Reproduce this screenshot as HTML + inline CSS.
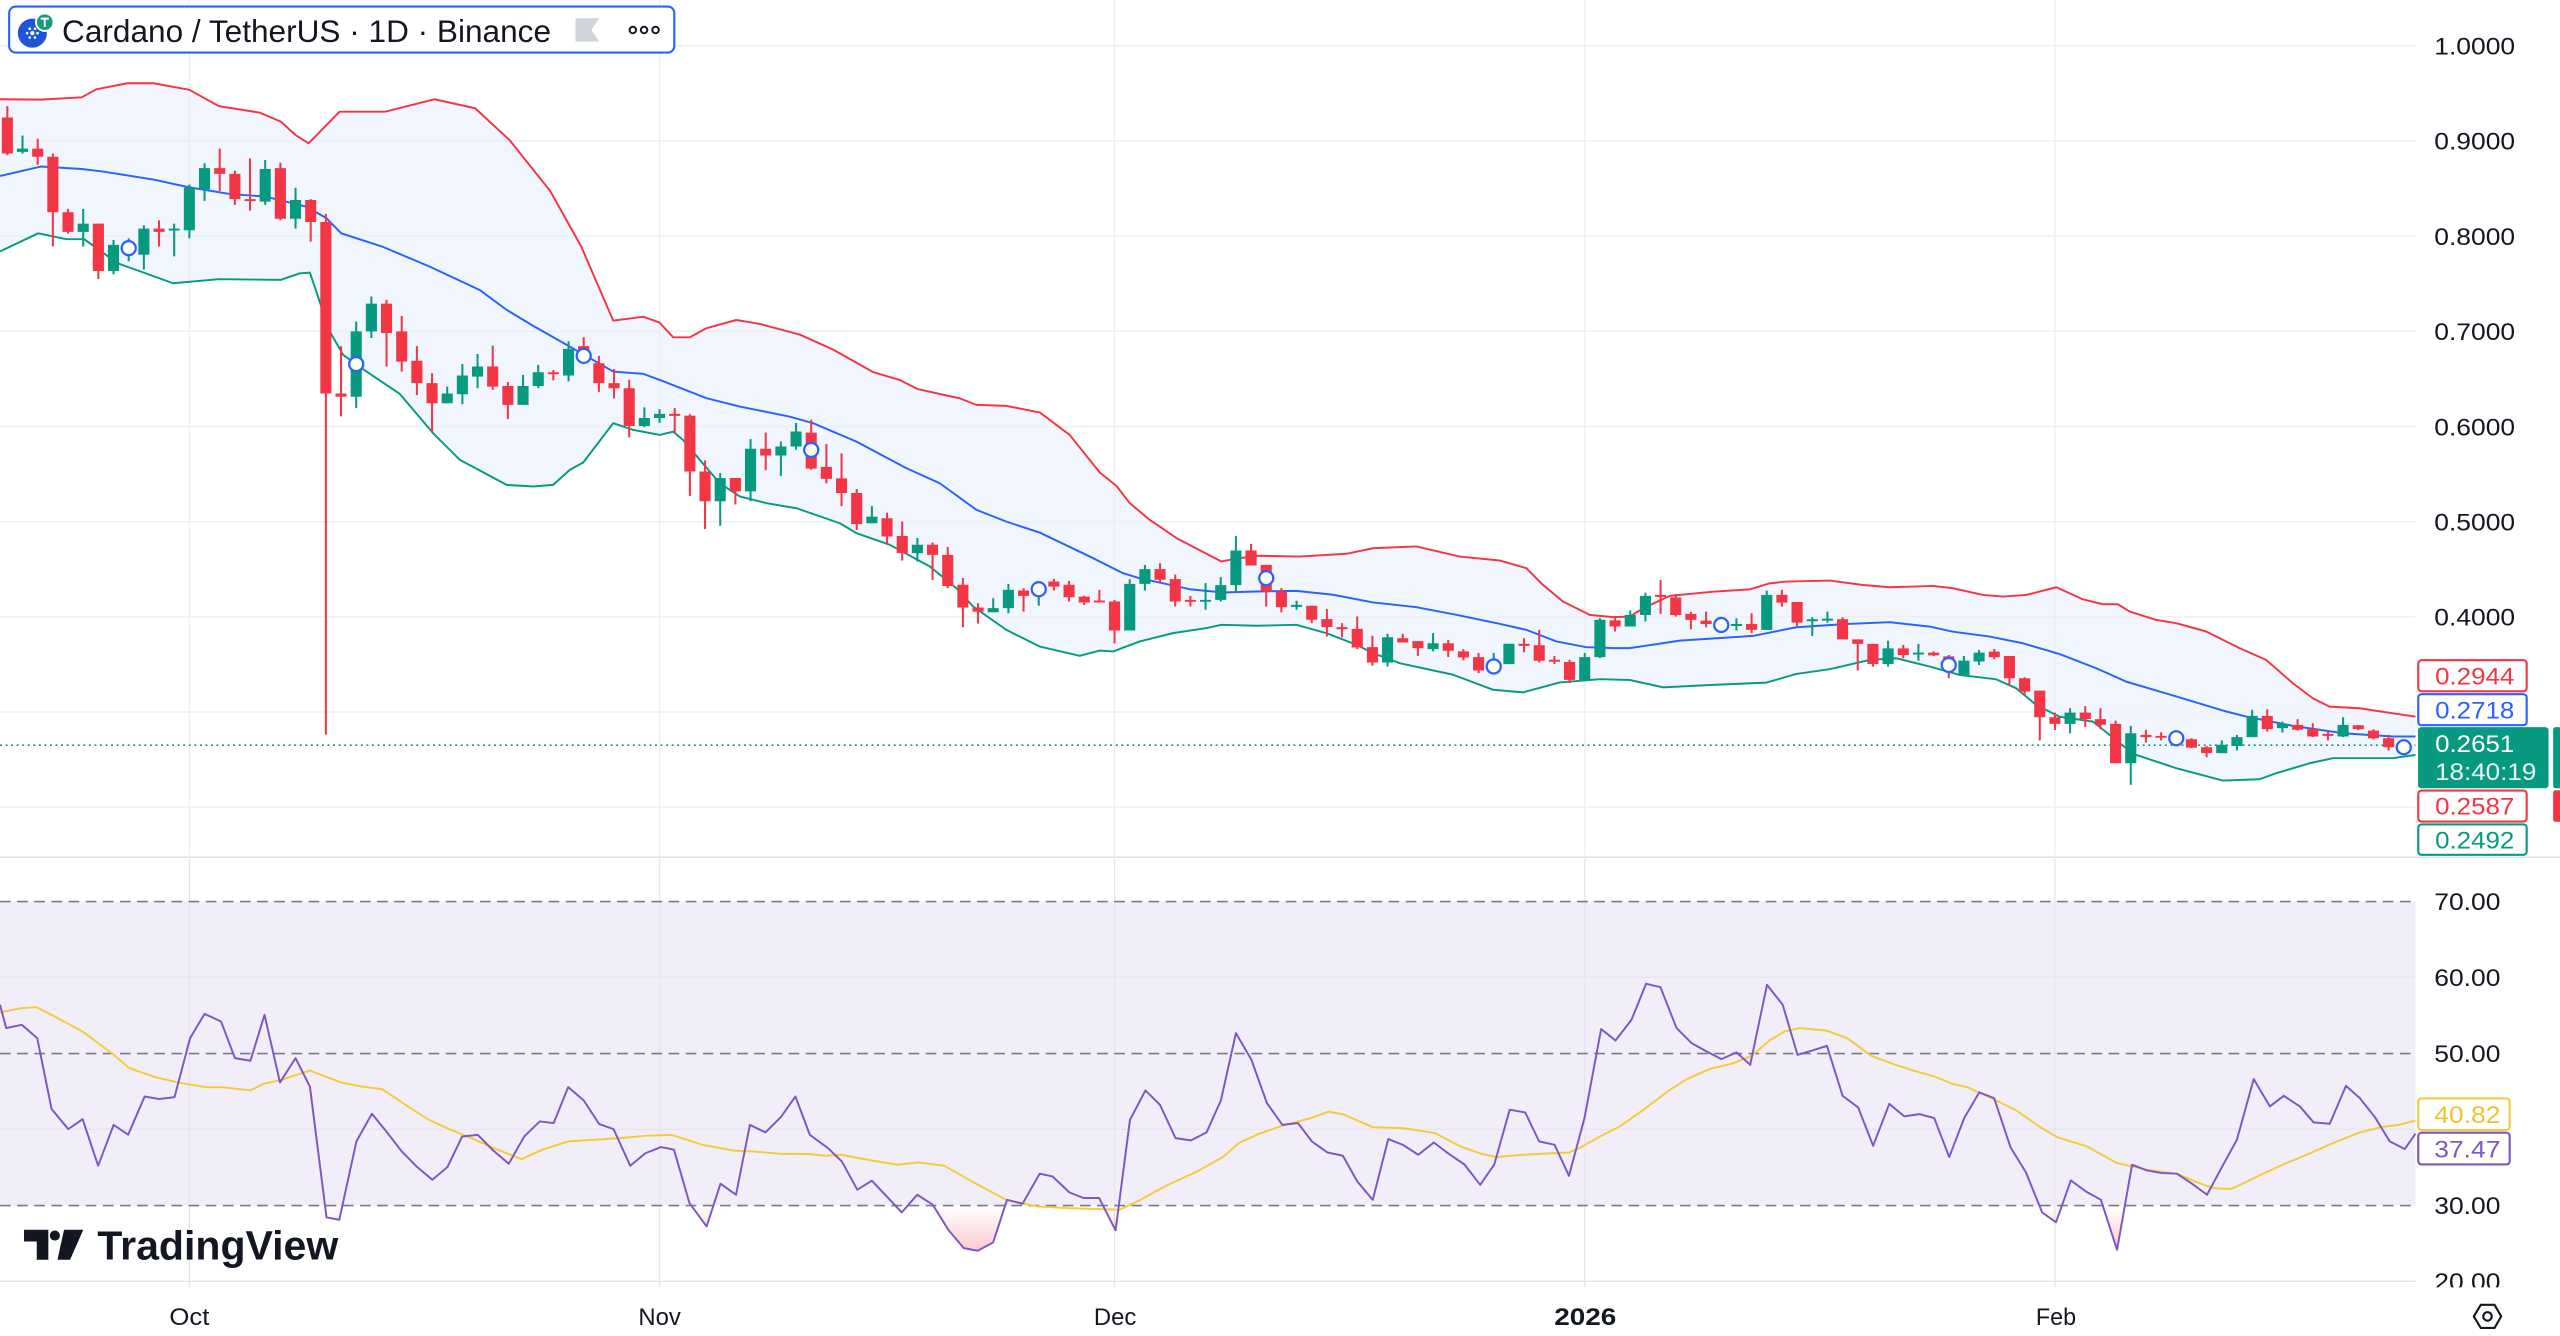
<!DOCTYPE html>
<html><head><meta charset="utf-8"><style>
html,body{margin:0;padding:0;background:#fff;width:2560px;height:1336px;overflow:hidden}
svg{display:block}
text{font-family:"Liberation Sans",Arial,sans-serif}
</style></head><body>
<svg width="2560" height="1336" viewBox="0 0 1568 818.31" xmlns="http://www.w3.org/2000/svg">
<defs>
<clipPath id="mainc"><rect x="0" y="0" width="1479.5" height="524"/></clipPath>
<clipPath id="osc"><rect x="0" y="738.4" width="1479.5" height="50"/></clipPath>
<clipPath id="rsic"><rect x="0" y="526" width="1568" height="262.5"/></clipPath>
<linearGradient id="osg" gradientUnits="userSpaceOnUse" x1="0" y1="738.4" x2="0" y2="768">
<stop offset="0" stop-color="#f23645" stop-opacity="0"/><stop offset="1" stop-color="#f23645" stop-opacity="0.28"/>
</linearGradient>
</defs>
<rect x="0" y="0" width="1568" height="818.31" fill="#fff"/>

<!-- Bollinger band fill -->
<g clip-path="url(#mainc)">
<polygon fill="#f1f6fe" points="0,60.8 25,61 50,59.6 59,54.7 78,51 94,51 116,55 134,65 159,69 172,74.5 181,82.7 189,87.8 208,68.4 236,68.4 266,60.8 291,66.3 312,85.7 337,117 356,151 375.6,196.4 394,194 404,197.6 412.3,206.6 422.5,206.6 432.7,201 451,196 465.4,198.4 490,205 510,214 535,228 551,232.7 562.3,238.4 587.9,244 598,248 616.4,248.6 637,252.7 655.2,266.4 673.6,289.4 683.8,297.6 692,308.2 704.2,318.4 710.3,322.5 720.6,329.6 748.1,343.9 755.3,342.5 769.5,340.4 796,340.9 824.7,339.2 841,335.8 867.5,334.7 894,340.9 918.5,343.3 934.9,348 945,358.2 957.3,368.4 973.7,376.6 988,378 998.2,377.7 1006.4,372.6 1022.7,365 1049.2,362.4 1071.7,361 1083.9,357.3 1094.1,356.2 1120.7,355.6 1141.1,358.3 1157.4,359.7 1184,358.9 1196.2,360.3 1214.6,364.4 1226.8,365.4 1241.1,364.4 1259.5,359.7 1275.8,367.1 1288,370.1 1297.2,370.1 1304.4,374.6 1320.7,379.7 1333,381.7 1351.3,386.8 1371.7,397 1388,404.2 1404.4,418.5 1416.6,427.7 1426.8,432.8 1445.2,433.8 1465.6,436.9 1479.5,438.9 1479.5,524 0,524"/>
<polygon fill="#fff" points="0,154 23.4,142.9 40.6,146.5 51.6,146.5 71.9,161.2 106,173.5 134,171 172,171.4 183.7,167.4 189.8,167 202,203.1 210.2,217.4 224.5,227.6 244.9,241.3 265.3,265.4 281.7,281.7 310.3,297 326.6,298 338.8,297 349,287.8 357.2,283.3 375.6,259.2 387.8,263.3 404.1,266.4 412.3,264.4 418.4,269.5 428.6,281.7 440.9,296 453.1,304.1 469.5,308.2 487.8,311.3 514.4,320.5 524.6,326.6 545,333.7 569.5,347 585.8,360.3 596,371.5 616.4,385.8 636.8,396 661.3,401.7 673.6,398.5 681.8,399 698.1,392.9 718.5,387.8 739,384.7 748.1,382.7 769.5,383.3 794,382.7 812.4,387.8 830.8,394.9 841,400.1 857.3,406.2 890,413.3 914.5,422.5 932.8,424.1 955.3,418 980,416 998.2,416.5 1018.6,421 1049.2,419.5 1081.9,418.1 1100.3,412.8 1120.7,409.9 1145.2,404.2 1161.5,403.2 1182,408.3 1200.3,413.4 1222.7,416.1 1235,421.6 1247.2,431.8 1261.5,439 1281.9,442 1292.1,450.1 1302.3,458.3 1308.4,462.4 1333,470.5 1361.5,478.1 1384,477.3 1394.2,473.6 1414.6,467.5 1428.9,464.4 1465.6,464.4 1479.5,462.4 1479.5,524 0,524"/>
</g>

<!-- grid -->
<g stroke="#eceef2" stroke-width="0.8" fill="none">
<path d="M0 28H1479.5M0 86.3H1479.5M0 144.6H1479.5M0 202.9H1479.5M0 261.2H1479.5M0 319.5H1479.5M0 377.8H1479.5M0 436.1H1479.5M0 494.4H1479.5"/>
<path d="M115.98 0V524M403.97 0V524M682.67 0V524M970.66 0V524M1258.65 0V524"/>
</g>
<path d="M0 525H1568" stroke="#e0e3eb" stroke-width="1"/>

<!-- last price dotted line -->
<path d="M0 456.4H1479.5" stroke="#089981" stroke-width="1" stroke-dasharray="1.2 2.2"/>

<!-- Bollinger lines -->
<g fill="none" stroke-width="1.2" stroke-linejoin="round" clip-path="url(#mainc)">
<polyline stroke="#f23645" points="0,60.8 25,61 50,59.6 59,54.7 78,51 94,51 116,55 134,65 159,69 172,74.5 181,82.7 189,87.8 208,68.4 236,68.4 266,60.8 291,66.3 312,85.7 337,117 356,151 375.6,196.4 394,194 404,197.6 412.3,206.6 422.5,206.6 432.7,201 451,196 465.4,198.4 490,205 510,214 535,228 551,232.7 562.3,238.4 587.9,244 598,248 616.4,248.6 637,252.7 655.2,266.4 673.6,289.4 683.8,297.6 692,308.2 704.2,318.4 710.3,322.5 720.6,329.6 748.1,343.9 755.3,342.5 769.5,340.4 796,340.9 824.7,339.2 841,335.8 867.5,334.7 894,340.9 918.5,343.3 934.9,348 945,358.2 957.3,368.4 973.7,376.6 988,378 998.2,377.7 1006.4,372.6 1022.7,365 1049.2,362.4 1071.7,361 1083.9,357.3 1094.1,356.2 1120.7,355.6 1141.1,358.3 1157.4,359.7 1184,358.9 1196.2,360.3 1214.6,364.4 1226.8,365.4 1241.1,364.4 1259.5,359.7 1275.8,367.1 1288,370.1 1297.2,370.1 1304.4,374.6 1320.7,379.7 1333,381.7 1351.3,386.8 1371.7,397 1388,404.2 1404.4,418.5 1416.6,427.7 1426.8,432.8 1445.2,433.8 1465.6,436.9 1479.5,438.9"/>
<polyline stroke="#089981" points="0,154 23.4,142.9 40.6,146.5 51.6,146.5 71.9,161.2 106,173.5 134,171 172,171.4 183.7,167.4 189.8,167 202,203.1 210.2,217.4 224.5,227.6 244.9,241.3 265.3,265.4 281.7,281.7 310.3,297 326.6,298 338.8,297 349,287.8 357.2,283.3 375.6,259.2 387.8,263.3 404.1,266.4 412.3,264.4 418.4,269.5 428.6,281.7 440.9,296 453.1,304.1 469.5,308.2 487.8,311.3 514.4,320.5 524.6,326.6 545,333.7 569.5,347 585.8,360.3 596,371.5 616.4,385.8 636.8,396 661.3,401.7 673.6,398.5 681.8,399 698.1,392.9 718.5,387.8 739,384.7 748.1,382.7 769.5,383.3 794,382.7 812.4,387.8 830.8,394.9 841,400.1 857.3,406.2 890,413.3 914.5,422.5 932.8,424.1 955.3,418 980,416 998.2,416.5 1018.6,421 1049.2,419.5 1081.9,418.1 1100.3,412.8 1120.7,409.9 1145.2,404.2 1161.5,403.2 1182,408.3 1200.3,413.4 1222.7,416.1 1235,421.6 1247.2,431.8 1261.5,439 1281.9,442 1292.1,450.1 1302.3,458.3 1308.4,462.4 1333,470.5 1361.5,478.1 1384,477.3 1394.2,473.6 1414.6,467.5 1428.9,464.4 1465.6,464.4 1479.5,462.4"/>
<polyline stroke="#2962ff" points="0,107.8 25,102 50,103.5 62.5,105 94,110 115.6,114.7 140.6,118.8 162.5,120.4 187.5,126.5 200,133.7 209,142.9 234,151 262.5,163 293.8,177.6 310.3,189.8 326.6,199.6 349,212.3 375.6,227.6 394,229 404.1,232.7 432.7,243.9 453.1,249 483.8,255.2 498,259.2 524.6,270.5 555.2,286.8 575.6,296 598.1,312.3 616.4,319.5 636.8,326.2 667.5,340.9 687.9,351.1 698.1,354.2 710.3,356.8 728.7,360.9 749.1,362.9 769.5,362.3 794,361.9 816.5,364.3 841,369 867.5,371.9 892,376.6 918.5,382.1 934.9,385.8 953.3,392.9 971.6,396.4 988,397 998.2,397 1028.8,392.4 1073.7,389.5 1100.3,384.2 1130.9,382.2 1157.4,381.1 1182,383.8 1196.2,386.9 1218.7,389.9 1239,394 1261.5,400.6 1284,409.3 1302.3,417.5 1333,426.6 1363.6,435.8 1375.8,438.9 1404.4,444.6 1435,449.1 1465.6,451.1 1479.5,451.1"/>
</g>

<!-- candles -->
<g fill="none" stroke-linecap="butt">
<path stroke="#f23645" stroke-width="1.25" d="M4.5 65V95M23.08 85V101M32.37 94V151M41.66 128V143M60.24 137V171M97.4 135V151M134.56 91V117M143.85 104.5V125.5M153.14 97V129M171.72 99.6V135M190.3 122V148M199.59 131V450M208.88 212V255M236.75 183.7V224.5M246.04 193.5V227.6M255.33 212V242M264.62 228.6V265M301.78 211.7V238.8M311.07 234V256.7M338.94 226.6V233M357.52 206.6V222M366.81 218V240M376.1 226V244M385.39 232.6V268M413.26 250V265M422.55 253.7V303.7M431.84 282V324M450.42 292.8V309M469 265V288M496.87 257V287.8M506.16 272V296M515.45 277.6V310M524.74 299.5V324.6M543.32 314V333.7M552.61 319.5V343.3M571.19 332.3V355.2M580.48 335V360.3M589.77 354V384.2M599.06 369.5V382M626.93 360.3V374.6M645.51 354.6V361.7M654.8 355.8V368.4M664.09 365V370.5M673.38 361.3V368.8M682.67 367.4V394M710.54 345V356.8M719.83 352V371.5M729.12 365V371.5M766.28 333.1V346.4M775.57 346V371.5M784.86 360.2V375.1M803.44 371V381.7M812.73 373.1V389.8M822.02 381.7V390.3M831.31 377.6V397.6M840.6 389.4V407.8M859.18 388.2V393.5M868.47 392.7V401.7M887.05 391.9V402.5M896.34 397.6V404.5M905.63 400V412.3M933.5 390.9V399.6M942.79 385.8V405.8M952.08 401.7V406.8M961.37 404.1V418.4M989.24 378.6V386.8M1017.11 355.2V376M1026.4 363.8V377.7M1035.69 374.6V385.4M1044.98 374.6V384.2M1054.27 379V386M1072.85 375.6V387.9M1091.43 361.3V371.6M1100.72 368.7V383.4M1128.59 378.1V391.6M1137.88 391.6V410.7M1147.17 394.4V408.3M1165.75 395V403.2M1184.33 399V401.8M1193.62 401.2V415.4M1221.49 397.5V403.8M1230.78 401.8V419.5M1240.07 414.8V425.6M1249.36 423V453.6M1258.65 436.5V447.1M1277.23 432.4V445.4M1286.52 433.8V446.7M1295.81 441.4V467.5M1314.39 447V454.8M1323.68 448.6V453.5M1332.97 449V455M1342.26 452.2V458.3M1351.55 456.9V463.8M1388.71 434.4V448.1M1407.29 440.5V447.5M1416.58 443V451.5M1425.87 448.1V453.6M1444.45 444.2V447.3M1453.74 446.7V452.9M1463.03 450.1V459.7"/>
<path stroke="#f23645" stroke-width="6.8" d="M4.5 72V94M23.08 91V96M32.37 96V130M41.66 130V142M60.24 137V166M97.4 140V142M134.56 103V106.5M143.85 106.5V122M153.14 122V123.2M171.72 103V134M190.3 122.5V136M199.59 136V241M208.88 241V243M236.75 186V204M246.04 203V221.5M255.33 221V234.7M264.62 234.7V247M301.78 224.5V236.8M311.07 236.4V248M338.94 228V229.2M357.52 212V217M366.81 222.5V234.7M376.1 234.7V237.8M385.39 237.8V260.9M413.26 253.5V254.7M422.55 254.6V288.8M431.84 288.8V307M450.42 292.8V301M469 274.9V279M496.87 265V287M506.16 286V293.3M515.45 293V302M524.74 302V321M543.32 317.4V328.6M552.61 328.3V338.8M571.19 333.7V339.9M580.48 339.9V358.9M589.77 358.2V372.1M599.06 372.1V374.6M626.93 361.7V365M645.51 356.2V359.3M654.8 358.2V365.8M664.09 365.4V369M673.38 367.8V369M682.67 368.4V386.2M710.54 348.6V355.1M719.83 354.7V368.4M729.12 367.4V368.6M766.28 337.2V346.4M775.57 346V362.3M784.86 362.3V371.9M803.44 371V379.6M812.73 379.2V384.1M822.02 384.1V385.4M831.31 385.2V396.6M840.6 396.4V405.8M859.18 390.9V393.5M868.47 392.7V397M887.05 394V398.6M896.34 399V402.7M905.63 402.5V410.7M933.5 394.3V395.6M942.79 395.2V404.7M952.08 404.1V405.3M961.37 405.4V416.4M989.24 380V383.7M1017.11 364.4V365.6M1026.4 366V376.7M1035.69 376V379.7M1044.98 380.1V382.2M1054.27 381V384M1072.85 382.2V385.8M1091.43 364.4V369.1M1100.72 368.7V381.4M1128.59 379.3V391.6M1137.88 391.6V394.4M1147.17 394.4V406.7M1165.75 397.1V401.2M1184.33 399.7V401.4M1193.62 402V410M1221.49 399.1V402.6M1230.78 401.8V415.4M1240.07 415.4V423.6M1249.36 423V439.3M1258.65 439.3V443.4M1277.23 436.5V440.5M1286.52 440.5V444M1295.81 443.4V467.5M1314.39 450.1V451.5M1323.68 450.7V451.9M1332.97 451V453M1342.26 452.8V457.9M1351.55 457.7V461.3M1388.71 438.5V446.6M1407.29 444V447M1416.58 446.7V451.1M1425.87 449.5V450.7M1444.45 444.2V446.6M1453.74 447.5V452.2M1463.03 452.2V457.7"/>
<path stroke="#089981" stroke-width="1.25" d="M13.79 83V94M50.95 128V151M69.53 147V168M78.82 146V160M88.11 138V165M106.69 137V157M115.98 113V146M125.27 100V123M162.43 98V125.5M181.01 115V140M218.17 197V250M227.46 181.6V207M273.91 236.8V247M283.2 223V247.6M292.49 216.8V237.8M320.36 229.6V248M329.65 223.5V237.8M348.23 209V233.6M394.68 249.5V261.7M403.97 250.6V259M441.13 289.8V322M459.71 269V307M478.29 270.4V291.5M487.58 259V275.5M534.03 310V320.5M561.9 329.5V344M608.35 366.4V375M617.64 357.6V375.6M636.22 357V371M691.96 354.8V386.2M701.25 346V361.7M738.41 357.2V373.5M747.7 353.5V368.4M756.99 328.2V362.3M794.15 368V373.5M849.89 388.2V408.2M877.76 387.8V399M914.92 400V412M924.21 394.3V406.8M970.66 400V416.4M979.95 378.6V403.1M998.53 373.9V383.7M1007.82 363V380.7M1063.56 378.7V386.2M1082.14 361.8V385.8M1110.01 378.1V389.5M1119.3 374.6V381.4M1156.46 392.4V408.3M1175.04 394.4V404.6M1202.91 401.8V413.4M1212.2 398.1V407.3M1267.94 433.8V449.1M1305.1 444.6V480.7M1360.84 453.5V461.3M1370.13 450.1V459.7M1379.42 434.8V451.5M1398 442V448.7M1435.16 439.3V451.5M1472.32 455V459"/>
<path stroke="#089981" stroke-width="6.8" d="M13.79 91V93M50.95 137V142M69.53 150V166M78.82 149V155M88.11 140V156M106.69 140V141.2M115.98 115V141M125.27 103V116M162.43 103.5V123.5M181.01 122.5V134M218.17 203V243M227.46 186V203M273.91 241V247M283.2 230V241.5M292.49 224.5V230.7M320.36 236.4V248M329.65 228V236.4M348.23 213.7V230M394.68 256V260.9M403.97 253.5V256M441.13 292.8V307M459.71 274.9V301M478.29 273.5V279M487.58 264.3V273.5M534.03 316.4V320.5M561.9 333.7V338.8M608.35 372.5V375M617.64 361.3V372.5M636.22 359V362M691.96 357.6V386.2M701.25 348.6V357.6M738.41 367.4V368.6M747.7 358.4V367.4M756.99 337.2V358.4M794.15 370.5V371.7M849.89 390.3V405.8M877.76 394V397.6M914.92 406V410M924.21 394.3V406.8M970.66 402.5V416.4M979.95 379.6V402.5M998.53 376.6V383.7M1007.82 365V376.7M1063.56 382.2V383.4M1082.14 364.4V385.8M1110.01 379.3V380.5M1119.3 378.9V380.1M1156.46 397.1V406.7M1175.04 399.7V400.9M1202.91 404.6V413.4M1212.2 399.7V405.2M1267.94 436.5V443.4M1305.1 449.1V467.5M1360.84 456.2V461.3M1370.13 451.5V456.9M1379.42 438.5V451.5M1398 443.4V446M1435.16 444V451.1M1472.32 456.4V457.7"/>
</g>

<!-- markers -->
<g fill="#fff" stroke="#2962ff" stroke-width="1.4">
<circle cx="78.82" cy="152" r="4.3"/>
<circle cx="218.17" cy="223" r="4.3"/>
<circle cx="357.52" cy="218" r="4.3"/>
<circle cx="496.87" cy="275.6" r="4.3"/>
<circle cx="636.22" cy="360.9" r="4.3"/>
<circle cx="775.57" cy="354.1" r="4.3"/>
<circle cx="914.92" cy="408.2" r="4.3"/>
<circle cx="1054.27" cy="382.8" r="4.3"/>
<circle cx="1193.62" cy="407.3" r="4.3"/>
<circle cx="1332.97" cy="452.2" r="4.3"/>
<circle cx="1472.32" cy="457.7" r="4.3"/>
</g>

<!-- title -->
<rect x="5.6" y="4" width="407.4" height="28.2" rx="4" fill="#fff" stroke="#2962ff" stroke-width="1.3"/>
<circle cx="19.8" cy="20.3" r="8.9" fill="#1f55d4"/>
<g fill="#fff"><circle cx="19.8" cy="20.3" r="1.3"/><circle cx="16.6" cy="20.3" r="0.8"/><circle cx="23" cy="20.3" r="0.8"/><circle cx="18.2" cy="17.6" r="0.8"/><circle cx="21.4" cy="17.6" r="0.8"/><circle cx="18.2" cy="23" r="0.8"/><circle cx="21.4" cy="23" r="0.8"/></g>
<circle cx="27.4" cy="13.6" r="6" fill="#fff"/>
<circle cx="27.4" cy="13.6" r="4.8" fill="#1a9b7e"/>
<path d="M24.9 11.4h5M27.4 11.4v5" stroke="#fff" stroke-width="1.2"/>
<text x="38" y="25.7" font-size="19" fill="#131722" textLength="299.5" lengthAdjust="spacingAndGlyphs">Cardano / TetherUS · 1D · Binance</text>
<polygon points="352.5,11.2 367,11.2 362.2,18.4 367,25.5 352.5,25.5" fill="#d1d4dc"/>
<g fill="none" stroke="#131722" stroke-width="1.2"><circle cx="387.6" cy="18.4" r="2"/><circle cx="394.5" cy="18.4" r="2"/><circle cx="401.5" cy="18.4" r="2"/></g>

<!-- RSI pane -->
<rect x="0" y="552.2" width="1479.5" height="186.2" fill="#f1edf9"/>
<g stroke="#e8e4ef" stroke-width="0.8" fill="none">
<path d="M0 598.6H1479.5M0 691.7H1479.5M0 784.8H1479.5"/>
<path d="M115.98 526V788.5M403.97 526V788.5M682.67 526V788.5M970.66 526V788.5M1258.65 526V788.5"/>
</g>
<g stroke="#787b86" stroke-width="1" stroke-dasharray="6.5 4" fill="none">
<path d="M0 552.2H1479.5M0 645.3H1479.5M0 738.4H1479.5"/>
</g>
<g clip-path="url(#osc)">
<polygon fill="url(#osg)" points="0,738.4 0,615.4 3.8,629.7 13.3,627.7 22.8,635.9 31.6,679.3 41.8,691.6 50.6,685.5 60.1,714 69.6,689 78.5,695 88.6,671.6 97.4,673.2 106.9,672 116.4,635.9 125.3,621 135.4,625.7 143.9,648.1 153.4,649.7 162,621.6 171.5,663 181,648.1 189.8,665.5 200,745.7 207.8,747.1 218.3,699.1 227.8,682.2 236.6,693 246.1,705.3 255.6,714.9 264.8,722.6 274,714.9 283.1,696.1 292.6,695.1 302.1,704.7 311.6,712.8 321.1,696.1 330.6,686.9 339.1,687.9 348,665.9 357.5,674 367,688.5 375.8,691.6 386,714 395.4,706.3 404.9,702.6 412.8,704.2 422.3,736.9 432.8,751.2 441.3,725 450.8,731.8 459.3,689 468.8,693.6 478.3,684.2 487.2,671.6 496,695.1 507.1,703.2 515.6,711.4 525.1,728.7 534,723.2 543.5,733.2 552.3,742.6 561.8,731.8 571.3,737.9 580.8,753.2 590.3,764.5 598.8,766.1 608.3,761 616.8,734.9 626.3,737.3 636.8,718.9 644.7,720.6 655.1,730.4 663.7,733.8 673.2,733.8 683.3,753.6 692.1,685.9 701.6,667.9 710.5,676.7 720,697.1 729.5,698.5 739,693.6 747.8,674 757,632.8 766.5,649.1 776,675.7 785.5,689 795,687.9 803.5,699.1 813,705.9 822.5,707.9 831.3,723.6 840.8,734.9 850.3,697.7 859.2,701.2 868.7,707.3 878.2,699.8 887.6,706.9 897.1,713.4 906.6,725.7 915.2,713.4 924.7,679.7 934.2,681.4 942.7,699.1 952.2,701.2 961,720.2 970.5,684.8 980.7,630.3 989.5,637.3 999.3,624.6 1008.2,602.6 1017,604.6 1026.9,629.7 1036.1,638.9 1045.2,644 1054.4,648.7 1063.6,644.6 1072,652.2 1082.3,603.2 1091.9,615.4 1101,646.1 1110.2,643.4 1119,640.6 1128.6,671.2 1138.1,678.3 1147.3,701.8 1157.2,676.1 1166.4,683.8 1175.6,682.4 1184.7,684.8 1193.9,708.7 1203.1,684.8 1212.3,669.1 1221.4,672.6 1231.4,702.6 1240.9,718.1 1250.8,742.6 1259.3,748.7 1268.4,723 1277.6,729.8 1286.8,734.9 1296.7,765.5 1305.9,713.4 1315,716.9 1324.2,718.5 1333.4,718.9 1342.6,725 1351.8,731.8 1360.9,714.9 1370.1,698.1 1380.4,661 1390.3,677.7 1398.8,671.2 1408.7,677.7 1417.1,687.5 1427,688.3 1436.9,665.1 1445.4,672.6 1454.6,684.2 1463.7,699.1 1472.9,703.8 1479.5,694.4 1479.5,738.4"/>
</g>
<polyline fill="none" stroke="#f5cb3b" stroke-width="1.2" stroke-linejoin="round" points="0,620.1 12.7,617.5 22.1,616.9 31.6,621.6 50.6,631.8 69.6,646 79.1,654.2 94.9,659.7 110.7,663.4 126.5,665.9 136,665.9 153.4,667.9 161.3,663.8 172.4,661.4 189.8,655.7 208.8,663 221.4,665.5 234.1,667.1 249.9,677.7 262.6,685.9 275.2,691.6 291,698.1 303.7,703.8 319.5,710 332.2,704.2 348,699.1 363.8,698.1 379.6,697.1 395.4,695.7 411.3,695.1 430.2,701.2 449.2,704.7 461.9,705.3 477.7,706.7 496,706.9 505.5,707.9 515,707.3 534,710.8 549.8,713.4 562.4,712 578.3,714 597.2,724.7 616.2,734.9 635.2,738.9 654.2,740 673.2,740.6 685.8,741 698.5,734.9 714.3,726.3 733.3,717.5 749.1,708.7 758.6,700.2 771.2,694.4 787.1,689 802.9,684.8 813.9,680.8 823.4,682.8 840.8,690.4 859.8,691 878.8,694 894.6,702.2 907.3,706.7 916.8,708.7 932.6,707.3 945.2,706.7 961,705.9 967.4,703.2 980,696.1 992,690 1006.7,679.7 1021.4,668.5 1032.4,661.4 1047.1,654.8 1061.8,651.2 1072.8,646.7 1083.8,637.3 1093,631.8 1102.1,629.7 1118.7,631.2 1131.5,635.9 1146.2,646.7 1160.9,652.2 1171.9,655.7 1184.7,659.3 1195.7,663.8 1204.9,665.9 1219.6,672.6 1234.3,679.7 1249,690 1260,696.5 1278.3,702.2 1296.7,712.4 1315,716.5 1333.4,718.9 1344.4,723.6 1355.4,727.7 1366.4,728.3 1373.8,725 1384.8,719.5 1399.5,712.8 1414.2,706.7 1428.8,700.2 1445.4,693.6 1458.2,690.4 1469.2,689 1479.5,686.3"/>
<polyline fill="none" stroke="#7e57c2" stroke-width="1.2" stroke-linejoin="round" points="0,615.4 3.8,629.7 13.3,627.7 22.8,635.9 31.6,679.3 41.8,691.6 50.6,685.5 60.1,714 69.6,689 78.5,695 88.6,671.6 97.4,673.2 106.9,672 116.4,635.9 125.3,621 135.4,625.7 143.9,648.1 153.4,649.7 162,621.6 171.5,663 181,648.1 189.8,665.5 200,745.7 207.8,747.1 218.3,699.1 227.8,682.2 236.6,693 246.1,705.3 255.6,714.9 264.8,722.6 274,714.9 283.1,696.1 292.6,695.1 302.1,704.7 311.6,712.8 321.1,696.1 330.6,686.9 339.1,687.9 348,665.9 357.5,674 367,688.5 375.8,691.6 386,714 395.4,706.3 404.9,702.6 412.8,704.2 422.3,736.9 432.8,751.2 441.3,725 450.8,731.8 459.3,689 468.8,693.6 478.3,684.2 487.2,671.6 496,695.1 507.1,703.2 515.6,711.4 525.1,728.7 534,723.2 543.5,733.2 552.3,742.6 561.8,731.8 571.3,737.9 580.8,753.2 590.3,764.5 598.8,766.1 608.3,761 616.8,734.9 626.3,737.3 636.8,718.9 644.7,720.6 655.1,730.4 663.7,733.8 673.2,733.8 683.3,753.6 692.1,685.9 701.6,667.9 710.5,676.7 720,697.1 729.5,698.5 739,693.6 747.8,674 757,632.8 766.5,649.1 776,675.7 785.5,689 795,687.9 803.5,699.1 813,705.9 822.5,707.9 831.3,723.6 840.8,734.9 850.3,697.7 859.2,701.2 868.7,707.3 878.2,699.8 887.6,706.9 897.1,713.4 906.6,725.7 915.2,713.4 924.7,679.7 934.2,681.4 942.7,699.1 952.2,701.2 961,720.2 970.5,684.8 980.7,630.3 989.5,637.3 999.3,624.6 1008.2,602.6 1017,604.6 1026.9,629.7 1036.1,638.9 1045.2,644 1054.4,648.7 1063.6,644.6 1072,652.2 1082.3,603.2 1091.9,615.4 1101,646.1 1110.2,643.4 1119,640.6 1128.6,671.2 1138.1,678.3 1147.3,701.8 1157.2,676.1 1166.4,683.8 1175.6,682.4 1184.7,684.8 1193.9,708.7 1203.1,684.8 1212.3,669.1 1221.4,672.6 1231.4,702.6 1240.9,718.1 1250.8,742.6 1259.3,748.7 1268.4,723 1277.6,729.8 1286.8,734.9 1296.7,765.5 1305.9,713.4 1315,716.9 1324.2,718.5 1333.4,718.9 1342.6,725 1351.8,731.8 1360.9,714.9 1370.1,698.1 1380.4,661 1390.3,677.7 1398.8,671.2 1408.7,677.7 1417.1,687.5 1427,688.3 1436.9,665.1 1445.4,672.6 1454.6,684.2 1463.7,699.1 1472.9,703.8 1479.5,694.4"/>

<!-- TradingView logo -->
<g fill="#131722">
<path d="M14.7 753.2H29.6V771.6H22.5V760.4H14.7Z"/>
<circle cx="33.6" cy="756.8" r="3.1"/>
<polygon points="39.2,753.2 51,753.2 42.9,771.6 35.2,771.6"/>
<text x="59.6" y="771.6" font-size="25" font-weight="bold" textLength="147.6" lengthAdjust="spacingAndGlyphs">TradingView</text>
</g>

<!-- price axis -->
<g font-size="15" fill="#131722">
<text x="1491" y="33.4" textLength="49.5" lengthAdjust="spacingAndGlyphs">1.0000</text>
<text x="1491" y="91.7" textLength="49.5" lengthAdjust="spacingAndGlyphs">0.9000</text>
<text x="1491" y="150" textLength="49.5" lengthAdjust="spacingAndGlyphs">0.8000</text>
<text x="1491" y="208.3" textLength="49.5" lengthAdjust="spacingAndGlyphs">0.7000</text>
<text x="1491" y="266.6" textLength="49.5" lengthAdjust="spacingAndGlyphs">0.6000</text>
<text x="1491" y="324.9" textLength="49.5" lengthAdjust="spacingAndGlyphs">0.5000</text>
<text x="1491" y="383.2" textLength="49.5" lengthAdjust="spacingAndGlyphs">0.4000</text>
</g>
<g font-size="15">
<rect x="1481.2" y="404.4" width="66.4" height="19" rx="2" fill="#fff" stroke="#f23645" stroke-width="1.3"/>
<text x="1491.5" y="419.2" fill="#f23645" textLength="48.5" lengthAdjust="spacingAndGlyphs">0.2944</text>
<rect x="1481.2" y="425.2" width="66.4" height="19" rx="2" fill="#fff" stroke="#2962ff" stroke-width="1.3"/>
<text x="1491.5" y="440.1" fill="#2962ff" textLength="48.5" lengthAdjust="spacingAndGlyphs">0.2718</text>
<rect x="1481" y="445.4" width="80" height="37.4" rx="2" fill="#089981"/>
<text x="1491.5" y="460.6" fill="#fff" textLength="48.5" lengthAdjust="spacingAndGlyphs">0.2651</text>
<text x="1491.5" y="477.9" fill="#e6f5f1" textLength="62" lengthAdjust="spacingAndGlyphs">18:40:19</text>
<rect x="1563.8" y="445.4" width="5" height="37.4" rx="1.5" fill="#089981"/>
<rect x="1481.2" y="484.2" width="66.4" height="19" rx="2" fill="#fff" stroke="#f23645" stroke-width="1.3"/>
<text x="1491.5" y="498.9" fill="#f23645" textLength="48.5" lengthAdjust="spacingAndGlyphs">0.2587</text>
<rect x="1563.8" y="484" width="5" height="19.4" rx="1.5" fill="#f23645"/>
<rect x="1481.2" y="505" width="66.4" height="18.6" rx="2" fill="#fff" stroke="#089981" stroke-width="1.3"/>
<text x="1491.5" y="519.6" fill="#089981" textLength="48.5" lengthAdjust="spacingAndGlyphs">0.2492</text>
</g>

<!-- RSI axis -->
<g font-size="15" fill="#131722" clip-path="url(#rsic)">
<text x="1491" y="557.5" textLength="40.5" lengthAdjust="spacingAndGlyphs">70.00</text>
<text x="1491" y="603.9" textLength="40.5" lengthAdjust="spacingAndGlyphs">60.00</text>
<text x="1491" y="650.6" textLength="40.5" lengthAdjust="spacingAndGlyphs">50.00</text>
<text x="1491" y="743.7" textLength="40.5" lengthAdjust="spacingAndGlyphs">30.00</text>
<text x="1491" y="790.1" textLength="40.5" lengthAdjust="spacingAndGlyphs">20.00</text>
</g>
<g font-size="15">
<rect x="1481.2" y="672.8" width="56" height="19.4" rx="2" fill="#fff" stroke="#f5cb3b" stroke-width="1.3"/>
<text x="1491" y="687.9" fill="#f0c231" textLength="40.5" lengthAdjust="spacingAndGlyphs">40.82</text>
<rect x="1481.2" y="693.8" width="56" height="19.4" rx="2" fill="#fff" stroke="#7e57c2" stroke-width="1.3"/>
<text x="1491" y="708.9" fill="#7e57c2" textLength="40.5" lengthAdjust="spacingAndGlyphs">37.47</text>
</g>

<!-- time axis -->
<g font-size="14.5" fill="#131722" text-anchor="middle">
<text x="116" y="811.5" textLength="24.5" lengthAdjust="spacingAndGlyphs">Oct</text>
<text x="404" y="811.5" textLength="26" lengthAdjust="spacingAndGlyphs">Nov</text>
<text x="683" y="811.5" textLength="26" lengthAdjust="spacingAndGlyphs">Dec</text>
<text x="971" y="811.5" font-weight="bold" textLength="38" lengthAdjust="spacingAndGlyphs">2026</text>
<text x="1259.3" y="811.5" textLength="24.6" lengthAdjust="spacingAndGlyphs">Feb</text>
</g>
<polygon points="1515.2,806.3 1519.5,799.2 1527.9,799.2 1532,806.3 1527.9,813.4 1519.5,813.4" fill="none" stroke="#131722" stroke-width="1.3" stroke-linejoin="round"/>
<circle cx="1523.6" cy="806.3" r="2.6" fill="none" stroke="#131722" stroke-width="1.3"/>
</svg>
</body></html>
